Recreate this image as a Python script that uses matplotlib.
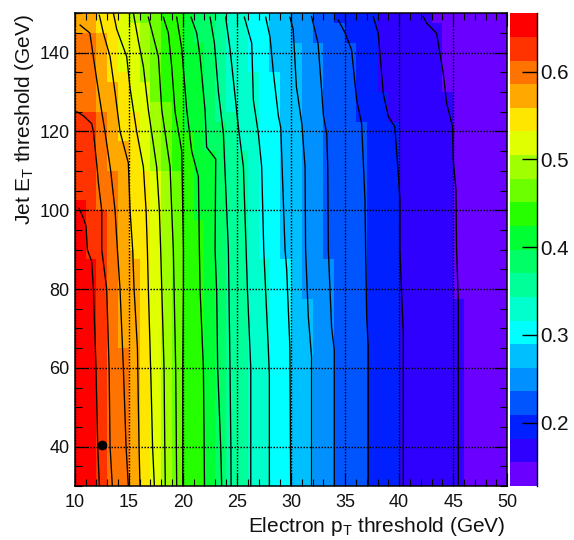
import numpy as np
import matplotlib
matplotlib.use("Agg")
import matplotlib.pyplot as plt
from matplotlib.colors import ListedColormap, BoundaryNorm
from matplotlib.ticker import MultipleLocator

plt.rcParams['font.family'] = ['Liberation Sans', 'DejaVu Sans']
plt.rcParams['mathtext.fontset'] = 'custom'
plt.rcParams['mathtext.rm'] = 'Liberation Sans'
plt.rcParams['mathtext.it'] = 'Liberation Sans'

# Efficiency bands, highest to lowest
band_colors = ['#ff0000', '#ff3300', '#ff7300', '#ffa800', '#ffe600', '#e0ff00', '#a0ff00',
               '#6cff00', '#26ff00', '#00ff33', '#00ff66', '#00ff99', '#00ffcc', '#00ffff',
               '#00bfff', '#0090ff', '#0055ff', '#0020ff', '#3000ff', '#6a00ff']
z_min = 0.1278
z_max = 0.6665

# Step edges: (lowest jet ET of the step, electron pT where the next lower band starts)
band_edges = [
    [(30, 12), (87.5, 11), (102.5, 10)],
    [(30, 13), (100, 12), (125, 10)],
    [(30, 15), (65, 14), (110, 13), (125, 12), (145, 10)],
    [(30, 16), (87.5, 15.5), (90, 15), (117.5, 14), (132.5, 13), (145, 12)],
    [(30, 17), (110, 16), (125, 15), (135, 14)],
    [(30, 18), (110, 17), (132.5, 16), (147.5, 15)],
    [(30, 19), (110, 18), (127.5, 17), (147.5, 16)],
    [(30, 20), (110, 19), (127.5, 18)],
    [(30, 22), (97.5, 21), (120, 20)],
    [(30, 23), (115, 22), (142.5, 21)],
    [(30, 24), (122.5, 23)],
    [(30, 26), (115, 25), (125, 24)],
    [(30, 28), (87.5, 27), (135, 26)],
    [(30, 30), (87.5, 29), (135, 28)],
    [(30, 32), (77.5, 31), (142.5, 30)],
    [(30, 34), (87.5, 33), (142.5, 32)],
    [(30, 37), (122.5, 36), (142.5, 35), (147.5, 34)],
    [(30, 40), (122.5, 39), (130, 38)],
    [(30, 46), (77.5, 45), (130, 44), (147.5, 43)],
]

contour_pt = [
    [12.28, 12.13, 11.97, 11.73, 11.57, 11.17, 11.05, 10.8, 10.4],
    [13.48, 13.27, 13.18, 12.96, 12.5, 12.5, 12.19, 12.1, 11.73, 11.57, 10.8, 10.2],
    [14.96, 14.75, 14.5, 14.19, 13.95, 13.73, 13.33, 12.8, 12.5, 12.1, 11.67, 11.4, 10.5],
    [16.04, 15.95, 15.8, 15.49, 15.36, 15.12, 14.96, 14.19, 13.73, 13.27, 12.65, 12.28],
    [17.37, 17.2, 17.06, 16.97, 16.81, 16.72, 16.6, 16.35, 15.73, 15.12, 14.81, 13.88, 13.58],
    [18.38, 18.33, 18.26, 18.05, 17.95, 17.83, 17.58, 16.81, 16.35, 15.89, 15.43],
    [19.43, 19.4, 19.34, 19.19, 19.12, 18.97, 18.82, 18.05, 17.74, 16.81],
    [19.99, 19.99, 19.99, 20.05, 20.05, 19.99, 19.9, 19.28, 18.97, 18.66, 18.2],
    [22.0, 21.97, 21.9, 21.59, 21.53, 21.44, 20.82, 20.36, 19.9, 19.43],
    [23.59, 23.5, 23.22, 23.13, 22.98, 23.04, 22.2, 22.05, 21.59, 21.28, 20.76],
    [24.46, 24.44, 24.36, 24.21, 23.75, 23.29, 22.92, 22.52],
    [26.28, 26.28, 26.28, 25.97, 25.85, 25.6, 25.14, 24.83, 24.36, 23.96],
    [28.0, 28.0, 28.0, 27.91, 27.48, 27.29, 26.98, 26.52, 26.37, 25.69],
    [29.97, 29.95, 29.9, 29.6, 29.45, 29.05, 28.83, 28.37, 28.06, 27.66],
    [31.9, 31.9, 31.9, 31.6, 31.35, 31.3, 31.0, 30.5, 30.2, 29.9],
    [34.0, 34.0, 34.0, 33.75, 33.45, 33.4, 33.3, 33.0, 32.83, 32.5, 31.9],
    [37.14, 37.14, 37.14, 37.0, 36.9, 36.84, 36.53, 36.07, 35.6, 35.0, 34.37],
    [40.38, 40.38, 40.38, 40.23, 40.07, 40.07, 39.92, 39.6, 39.0, 38.53, 38.07, 37.6],
    [45.47, 45.47, 45.47, 45.31, 45.25, 45.0, 44.94, 44.39, 44.08, 43.46, 42.54, 42.23],
]
contour_et = [
    [30, 40, 60, 80, 87, 90, 96, 98, 100.5],
    [30, 40, 60, 80, 90, 100, 107, 110, 120, 122, 124, 125],
    [30, 40, 60, 80, 90, 100, 110, 120, 125, 132, 140, 145, 147],
    [30, 40, 65, 80, 90, 100, 112, 120, 130, 139, 145, 149.5],
    [30, 40, 56, 65, 80, 90, 100, 111, 120, 131, 139, 146, 150],
    [30, 40, 60, 80, 90, 100, 111, 125.5, 136.5, 143, 150],
    [30, 40, 60, 80, 90, 100, 111, 125.5, 139, 149],
    [30, 40, 60, 80, 90, 100, 115, 125, 136.5, 145, 149],
    [30, 40, 60, 80, 90, 108.5, 115, 125.5, 141, 149],
    [30, 40, 60, 79, 90, 113, 116, 125.5, 139, 145, 149],
    [30, 40, 60, 90, 119.5, 130, 142.4, 149],
    [30, 40, 60, 80, 90, 111, 121, 129, 141, 149],
    [30, 40, 58, 64.5, 90, 111, 119.5, 128, 142.4, 149],
    [30, 40, 65, 85, 90, 121, 124, 135, 144, 149],
    [30, 40, 62.8, 73, 90, 111, 122, 131.4, 146, 149],
    [30, 40, 64.5, 70.4, 90, 111, 119.5, 124, 130.5, 142.4, 149.2],
    [30, 40, 65.4, 73, 90, 102.6, 122, 128, 140.7, 145, 148.3],
    [30, 40, 68.7, 79, 90, 102.6, 109.4, 121.2, 123.8, 129.7, 144.9, 149.2],
    [30, 40, 77, 90, 105.2, 112.8, 121.2, 127.2, 134.8, 144.9, 147.5, 149.2],
]
marker_pt = [12.5]
marker_et = [40.5]
pt_edges = np.arange(10, 50.25, 0.5)
et_edges = np.arange(30, 150.25, 2.5)
cbar_ticks = [0.2, 0.3, 0.4, 0.5, 0.6]

W, H = 574, 540
fig = plt.figure(figsize=(W / 100, H / 100), dpi=100)
L, R, T, B = 74.7, 507.3, 13.3, 486.0
ax = fig.add_axes([L / W, 1 - B / H, (R - L) / W, (B - T) / H])

levels = np.linspace(z_min, z_max, len(band_colors) + 1)
mids = 0.5 * (levels[1:] + levels[:-1])[::-1]
cmap = ListedColormap(band_colors[::-1])
norm = BoundaryNorm(levels, cmap.N)


def band_index(pt, et):
    idx = 0
    for steps in band_edges:
        edge = [x for low, x in steps if low <= et][-1]
        if pt >= edge:
            idx += 1
    return idx


pt_c = 0.5 * (pt_edges[1:] + pt_edges[:-1])
et_c = 0.5 * (et_edges[1:] + et_edges[:-1])
Z = np.array([[mids[band_index(p, e)] for p in pt_c] for e in et_c])
ax.pcolormesh(pt_edges, et_edges, Z, cmap=cmap, norm=norm, linewidth=0, rasterized=True)

for px, ey in zip(contour_pt, contour_et):
    ax.plot(px, ey, color='black', lw=0.95, solid_joinstyle='round')
ax.plot(marker_pt, marker_et, 'o', color='black', ms=7, mew=0, zorder=5)

ax.set_xlim(10, 50)
ax.set_ylim(30, 150)
ax.xaxis.set_major_locator(MultipleLocator(5))
ax.xaxis.set_minor_locator(MultipleLocator(1))
ax.yaxis.set_major_locator(MultipleLocator(20))
ax.yaxis.set_minor_locator(MultipleLocator(5))
ax.grid(True, which='major', color='black', ls=(0, (1.08, 1.08)), lw=1.0)
ax.set_axisbelow(False)
ax.tick_params(which='both', direction='in', top=True, right=True, width=0.8, color='black')
ax.tick_params(which='major', length=9.5, labelsize=13, pad=3.6, labelcolor='#111111')
ax.tick_params(which='minor', length=4.8)
ax.tick_params(axis='x', which='major', pad=6)
for s in ax.spines.values():
    s.set_linewidth(1.1)

fig.text(505.5 / W, 1 - 531.7 / H, r'Electron p$_{\mathrm{T}}$ threshold (GeV)', ha='right', va='baseline',
         fontsize=15, color='#111111')
fig.text(24 / W, 1 - 14 / H, r'Jet E$_{\mathrm{T}}$ threshold (GeV)', rotation=90, ha='center', va='top',
         fontsize=15, color='#111111')

cax = fig.add_axes([510 / W, 1 - B / H, 27.4 / W, (B - T) / H])
grad = np.array([[m] for m in mids[::-1]])
cax.pcolormesh([0, 1], levels, grad, cmap=cmap, norm=norm)
cax.set_xlim(0, 1)
cax.set_ylim(z_min, z_max)
cax.set_xticks([])
cax.yaxis.tick_right()
cax.set_yticks(cbar_ticks)
cax.set_yticklabels([f'{t:.1f}' for t in cbar_ticks])
cax.tick_params(axis='y', direction='in', length=10.8, width=1.0, labelsize=14.8, pad=2, labelcolor='#111111')
for n in ['top', 'bottom', 'left']:
    cax.spines[n].set_visible(False)
cax.spines['right'].set_linewidth(1.0)

fig.savefig('out.png', dpi=100)
